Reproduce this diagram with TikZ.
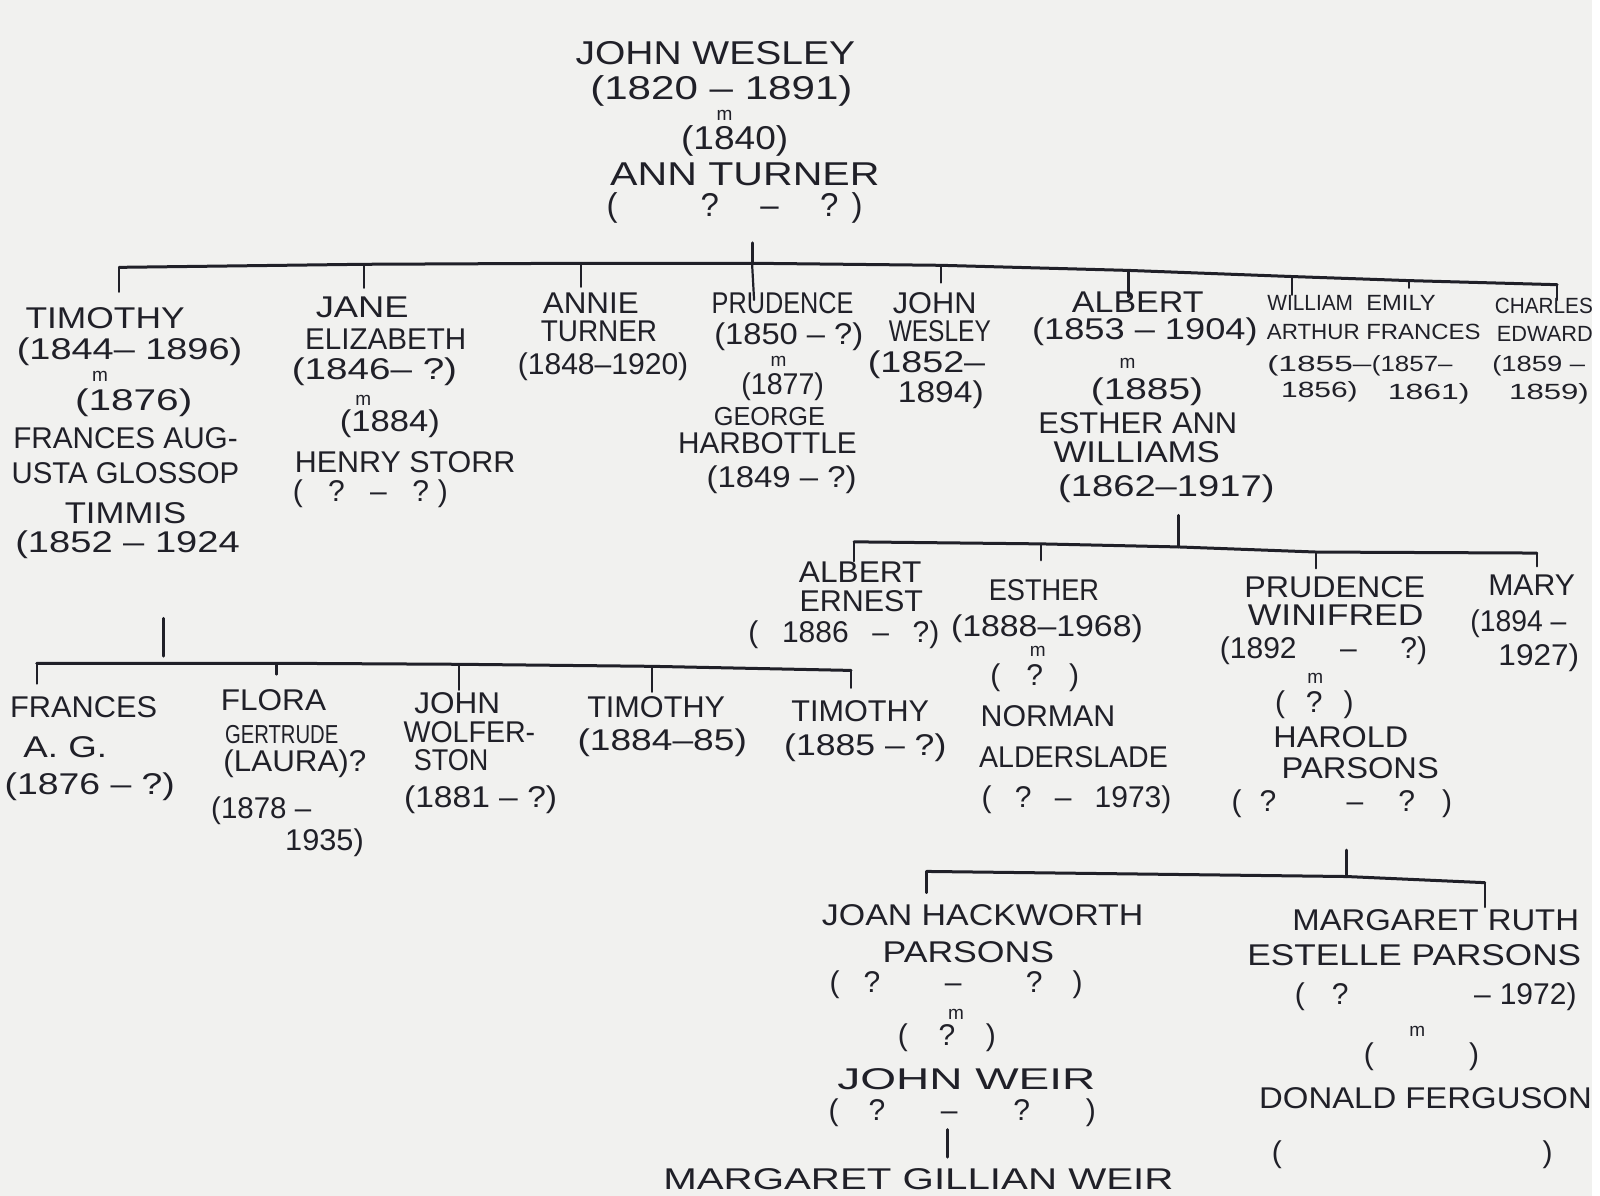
\documentclass[tikz,border=0pt]{standalone}
\usepackage{fontspec}
\setmainfont{Liberation Sans}
\usepackage{graphicx}
\newdimen\upx \upx=0.5102pt
\newcommand\fitw[2]{\resizebox{#1\upx}{\height}{#2}}
\newcommand\HW[5]{\node[#1] (#2) at (#3) {\fitw{#4}{#5}};}
\newcommand\SP[5]{\node[#1] (#2) at (#3) {\makebox[#4\upx]{#5}};}
\definecolor{ink}{RGB}{32,32,40}
\definecolor{paper}{RGB}{241,241,239}
\tikzset{
  hw/.style={inner sep=0pt, text=ink, font=\fontsize{15}{17}\selectfont},
  big/.style={hw, font=\fontsize{16.5}{18}\selectfont},
  sm/.style={hw, font=\fontsize{11}{13}\selectfont},
  sml/.style={hw, font=\fontsize{13}{15}\selectfont},
  mm/.style={hw, font=\fontsize{9.5}{10}\selectfont},
  pen/.style={draw=ink, line width=1.5pt, line cap=round, line join=round},
  tick/.style={draw=ink, line width=1.1pt, line cap=round}
}
\begin{document}
\begin{tikzpicture}[x=0.5102pt,y=-0.5102pt]
\useasboundingbox (0,0) rectangle (1568,1172);
\clip (0,0) rectangle (1568,1172);
\fill[paper] (0,0) rectangle (1568,1172);
\fill[white] (1560,0) rectangle (1568,1172);

% ---- generation 1
\HW{big}{jw1}{701,52}{274}{JOHN WESLEY}
\HW{big}{jw2}{707,89}{257}{(1820 – 1891)}
\node[mm] (jwm) at (710,113) {m};
\HW{big}{jw3}{720,138}{105}{(1840)}
\HW{big}{jw4}{730,171}{264}{ANN TURNER}
\SP{big}{jw5}{720,204}{251}{(\hfill\hfill?\hfill–\hfill?\hspace{0.4em})}

% ---- generation 2
\HW{hw}{tim1}{103,312}{156}{TIMOTHY}
\HW{hw}{tim2}{127,345}{221}{(1844– 1896)}
\node[mm] (timm) at (98,369) {m};
\HW{hw}{tim3}{131,395}{115}{(1876)}
\HW{hw}{tim4}{123,429}{220}{FRANCES AUG-}
\HW{hw}{tim5}{123,464}{223}{USTA GLOSSOP}
\HW{hw}{tim6}{123,503}{119}{TIMMIS}
\HW{hw}{tim7}{125,534}{220}{(1852 – 1924}

\HW{hw}{jane1}{355,301}{91}{JANE}
\HW{hw}{jane2}{378,332}{158}{ELIZABETH}
\HW{hw}{jane3}{367,364}{162}{(1846– ?)}
\node[mm] (janem) at (356,392) {m};
\HW{hw}{jane4}{382,415}{98}{(1884)}
\HW{hw}{jane5}{397,453}{216}{HENRY STORR}
\SP{hw}{jane6}{363,484}{152}{(\hfill?\hfill–\hfill?\hspace{0.3em})}

\HW{hw}{ann1}{579,297}{94}{ANNIE}
\HW{hw}{ann2}{587,325}{114}{TURNER}
\HW{hw}{ann3}{591,359}{167}{(1848–1920)}

\HW{hw}{pru1}{767,297}{139}{PRUDENCE}
\HW{hw}{pru2}{773,330}{146}{(1850 – ?)}
\node[mm] (prum) at (763,354) {m};
\HW{hw}{pru3}{767,379}{81}{(1877)}
\HW{sml}{pru4}{754,408}{109}{GEORGE}
\HW{hw}{pru5}{752,434}{175}{HARBOTTLE}
\HW{hw}{pru6}{766,470}{147}{(1849 – ?)}

\HW{hw}{jwb1}{916,297}{82}{JOHN}
\HW{hw}{jwb2}{921,325}{100}{WESLEY}
\HW{hw}{jwb3}{908,357}{115}{(1852–}
\HW{hw}{jwb4}{922,387}{84}{1894)}

\HW{hw}{alb1}{1115,296}{129}{ALBERT}
\HW{hw}{alb2}{1122,325}{221}{(1853 – 1904)}
\node[mm] (albm) at (1105,356) {m};
\HW{hw}{alb3}{1124,384}{110}{(1885)}
\HW{hw}{alb4}{1115,415}{195}{ESTHER ANN}
\HW{hw}{alb5}{1114,443}{163}{WILLIAMS}
\HW{hw}{alb6}{1143,479}{212}{(1862–1917)}

\HW{sm}{wil1}{1284,297}{84}{WILLIAM}
\HW{sm}{wil2}{1287,325}{91}{ARTHUR}
\HW{sm}{wil3}{1293,358}{102}{(1855–}
\HW{sm}{wil4}{1293,384}{75}{1856)}
\HW{sm}{emi1}{1373,297}{68}{EMILY}
\HW{sm}{emi2}{1395,325}{112}{FRANCES}
\HW{sm}{emi3}{1384,358}{79}{(1857–}
\HW{sm}{emi4}{1400,386}{80}{1861)}
\HW{sm}{cha1}{1513,300}{96}{CHARLES}
\HW{sm}{cha2}{1514,327}{94}{EDWARD}
\HW{sm}{cha3}{1508,358}{91}{(1859 –}
\HW{sm}{cha4}{1518,386}{78}{1859)}

% ---- Timothy's children
\HW{hw}{fra1}{82,693}{144}{FRANCES}
\HW{hw}{fra2}{64,732}{82}{A. G.}
\HW{hw}{fra3}{88,771}{167}{(1876 – ?)}
\HW{hw}{flo1}{268,686}{103}{FLORA}
\HW{sml}{flo2}{276,720}{111}{GERTRUDE}
\HW{hw}{flo3}{289,748}{140}{(LAURA)?}
\HW{hw}{flo4}{256,795}{98}{(1878 –}
\HW{hw}{flo5}{318,826}{77}{1935)}
\HW{hw}{joh1}{448,689}{84}{JOHN}
\HW{hw}{joh2}{460,718}{129}{WOLFER-}
\HW{hw}{joh3}{442,745}{73}{STON}
\HW{hw}{joh4}{471,784}{150}{(1881 – ?)}
\HW{hw}{tma1}{643,693}{135}{TIMOTHY}
\HW{hw}{tma2}{649,728}{166}{(1884–85)}
\HW{hw}{tmb1}{843,697}{135}{TIMOTHY}
\HW{hw}{tmb2}{848,733}{159}{(1885 – ?)}

% ---- Albert's children
\HW{hw}{ae1}{843,561}{120}{ALBERT}
\HW{hw}{ae2}{844,589}{121}{ERNEST}
\SP{hw}{ae3}{827,622}{187}{(\hfill1886\hfill–\hfill?)}
\HW{hw}{es1}{1023,578}{108}{ESTHER}
\HW{hw}{es2}{1026,616}{188}{(1888–1968)}
\node[mm] (esm) at (1017,638) {m};
\SP{hw}{es3}{1014,664}{87}{(\hfill?\hfill)}
\HW{hw}{es4}{1027,702}{132}{NORMAN}
\HW{hw}{es5}{1052,742}{185}{ALDERSLADE}
\SP{hw}{es6}{1055,784}{186}{(\hfill?\hfill–\hfill1973)}
\HW{hw}{pw1}{1308,575}{177}{PRUDENCE}
\HW{hw}{pw2}{1309,603}{172}{WINIFRED}
\SP{hw}{pw3}{1297,638}{203}{(1892\hfill–\hfill?)}
\node[mm] (pwm) at (1289,665) {m};
\SP{hw}{pw4}{1288,691}{77}{(\hfill?\hfill)}
\HW{hw}{pw5}{1314,722}{132}{HAROLD}
\HW{hw}{pw6}{1333,753}{154}{PARSONS}
\SP{hw}{pw7}{1315,788}{216}{(\hspace{0.6em}?\hfill\hfill–\hfill?\hspace{0.9em})}
\HW{hw}{mar1}{1501,573}{85}{MARY}
\HW{hw}{mar2}{1488,611}{94}{(1894 –}
\HW{hw}{mar3}{1508,645}{79}{1927)}

% ---- Prudence Winifred's children
\HW{hw}{jo1}{963,897}{315}{JOAN HACKWORTH}
\HW{hw}{jo2}{949,933}{168}{PARSONS}
\SP{hw}{jo3}{937,965}{248}{(\hspace{0.8em}?\hfill–\hfill?\hspace{1em})}
\node[mm] (jom) at (937,994) {m};
\SP{hw}{jo4}{928,1017}{96}{(\hfill?\hfill)}
\HW{hw}{jo5}{947,1058}{253}{JOHN WEIR}
\SP{hw}{jo6}{943,1090}{262}{(\hspace{1em}?\hfill–\hfill?\hfill)}
\HW{hw}{mg}{900,1156}{500}{MARGARET GILLIAN WEIR}
\HW{hw}{mr1}{1407,902}{281}{MARGARET RUTH}
\HW{hw}{mr2}{1386,936}{327}{ESTELLE PARSONS}
\SP{hw}{mr3}{1407,977}{276}{(\hspace{0.9em}?\hfill\hfill–\hspace{0.3em}1972)}
\node[mm] (mrm) at (1389,1011) {m};
\SP{hw}{mr4}{1393,1036}{113}{(\hfill)}
\HW{hw}{df1}{1397,1076}{326}{DONALD FERGUSON}
\SP{hw}{df2}{1384,1132}{275}{(\hfill)}

% ---- connectors: generation 1 -> 2
\coordinate (t0) at (737,238);
\coordinate (tb1) at (117,262);  \coordinate (te1) at (117,286);
\coordinate (tb2) at (357,259);  \coordinate (te2) at (357,282);
\coordinate (tb3) at (569,258);  \coordinate (te3) at (569,281);
\coordinate (tb4) at (737,258);  \coordinate (te4) at (739,294);
\coordinate (tb5) at (922,260);  \coordinate (te5) at (922,277);
\coordinate (tb6) at (1106,265); \coordinate (te6) at (1106,291);
\coordinate (tb7) at (1266,271); \coordinate (te7) at (1266,289);
\coordinate (tb8) at (1381,275); \coordinate (te8) at (1381,282);
\coordinate (tb9) at (1526,279); \coordinate (te9) at (1526,294);
\draw[pen] (tb1) -- (tb2) -- (tb3) -- (tb4) -- (tb5) -- (tb6) -- (tb7) -- (tb8) -- (tb9);
\draw[pen] (t0) -- (tb4);
\foreach \i in {1,...,9} \draw[tick] (tb\i) -- (te\i);

% ---- Timothy -> children
\coordinate (m0) at (160,606);
\coordinate (m0e) at (160,643);
\coordinate (mb1) at (36,650);  \coordinate (me1) at (36,670);
\coordinate (mb2) at (271,650); \coordinate (me2) at (271,661);
\coordinate (mb3) at (450,651); \coordinate (me3) at (450,676);
\coordinate (mb4) at (639,653); \coordinate (me4) at (639,678);
\coordinate (mb5) at (834,657); \coordinate (me5) at (834,674);
\draw[pen] (mb1) -- (mb2) -- (mb3) -- (mb4) -- (mb5);
\draw[pen] (m0) -- (m0e);
\foreach \i in {1,...,5} \draw[tick] (mb\i) -- (me\i);

% ---- Albert -> children
\coordinate (a0) at (1155,505);
\coordinate (ab0) at (1155,536);
\coordinate (ab1) at (837,531);  \coordinate (ae1e) at (837,550);
\coordinate (ab2) at (1020,533); \coordinate (ae2e) at (1020,549);
\coordinate (ab3) at (1290,541); \coordinate (ae3e) at (1290,557);
\coordinate (ab4) at (1506,542); \coordinate (ae4e) at (1506,555);
\draw[pen] (ab1) -- (ab2) -- (ab0) -- (ab3) -- (ab4);
\draw[pen] (a0) -- (ab0);
\draw[tick] (ab1) -- (ae1e);
\draw[tick] (ab2) -- (ae2e);
\draw[tick] (ab3) -- (ae3e);
\draw[tick] (ab4) -- (ae4e);

% ---- Prudence Winifred -> children
\coordinate (p0) at (1320,833);
\coordinate (pb0) at (1320,859);
\coordinate (pb1) at (908,854);  \coordinate (pe1) at (908,875);
\coordinate (pb2) at (1455,865); \coordinate (pe2) at (1455,889);
\draw[pen] (pb1) -- (pb0) -- (pb2);
\draw[pen] (p0) -- (pb0);
\draw[tick] (pb1) -- (pe1);
\draw[tick] (pb2) -- (pe2);

% ---- Joan -> Margaret Gillian
\coordinate (w0) at (929,1107);
\coordinate (w1) at (929,1134);
\draw[pen] (w0) -- (w1);
\end{tikzpicture}
\end{document}
